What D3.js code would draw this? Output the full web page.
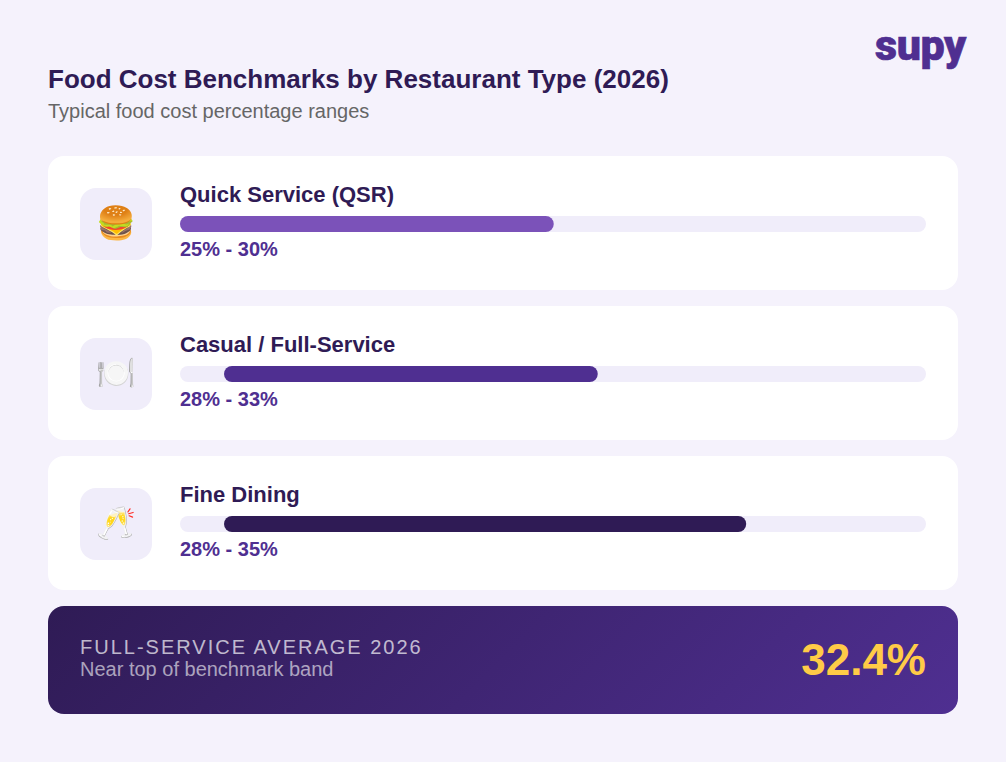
<!DOCTYPE html>
<html>
<head>
<meta charset="utf-8">
<script src="https://cdn.jsdelivr.net/npm/d3@7/dist/d3.min.js"></script>
<style>
html,body{margin:0;padding:0;background:#f5f2fc;}
svg{display:block;}
text{font-family:"Liberation Sans",Arial,sans-serif;}
</style>
</head>
<body>
<div id="chart"></div>
<script>
// Benchmark content
const categories = ["Quick Service (QSR)", "Casual / Full-Service", "Fine Dining"];
const icons = ["🍔", "🍽️", "🥂"];
const lowValues = [25, 28, 28];
const highValues = [30, 33, 35];
const barColors = ["#7b52b9", "#4f2f91", "#2f1b55"];
// Percentage stops and where each one sits along the track (share of its length)
const scaleStops = [25, 28, 30, 33, 35];
const trackShares = [0, 5.9, 50.1, 56, 75.9];
const calloutValue = 32.4;

const W = 1006, H = 762;
const svg = d3.select("#chart").append("svg").attr("width", W).attr("height", H);

const defs = svg.append("defs");
const grad = defs.append("linearGradient").attr("id", "banner")
  .attr("gradientUnits", "userSpaceOnUse")
  .attr("x1", 248.5).attr("y1", 405.5).attr("x2", 757.5).attr("y2", 914.5);
grad.append("stop").attr("offset", 0).attr("stop-color", "#2f1b55");
grad.append("stop").attr("offset", 1).attr("stop-color", "#4f2f91");

svg.append("rect").attr("width", W).attr("height", H).attr("fill", "#f5f2fc");

// Header
svg.append("text").attr("x", 48).attr("y", 88).attr("font-size", 26).attr("font-weight", 700)
  .attr("fill", "#2f1b55").text("Food Cost Benchmarks by Restaurant Type (2026)");
svg.append("text").attr("x", 48).attr("y", 118).attr("font-size", 20)
  .attr("fill", "#666666").text("Typical food cost percentage ranges");
svg.append("text").attr("x", 966).attr("y", 60).attr("text-anchor", "end")
  .style("font-family", "Roboto").attr("font-size", 43).attr("font-weight", 900)
  .attr("letter-spacing", -0.4).attr("fill", "#4f2f91").attr("stroke", "#4f2f91")
  .attr("stroke-width", 0.6).text("supy");

// Shared scales
const rowY = d3.scaleBand().domain(categories).range([156, 590]).paddingInner(16 / 150);
const trackX = d3.scaleLinear().domain([0, 100]).range([180, 926]);
const pctToShare = d3.scaleLinear().domain(scaleStops).range(trackShares);
const xOf = v => trackX(pctToShare(v));

const rows = svg.selectAll("g.row").data(categories).join("g").attr("class", "row")
  .attr("transform", d => `translate(0,${rowY(d)})`);

rows.append("rect").attr("x", 48).attr("width", 910).attr("height", rowY.bandwidth())
  .attr("rx", 16).attr("fill", "#ffffff");
rows.append("rect").attr("x", 80).attr("y", 32).attr("width", 72).attr("height", 72)
  .attr("rx", 16).attr("fill", "#f0edfa");
rows.append("text").attr("x", 116).attr("y", 78).attr("text-anchor", "middle")
  .attr("font-size", 32).style("font-family", "'Noto Color Emoji',sans-serif")
  .text((d, i) => icons[i]);
rows.append("text").attr("x", 180).attr("y", 46).attr("font-size", 22).attr("font-weight", 700)
  .attr("fill", "#2f1b55").text(d => d);
rows.append("rect").attr("x", trackX(0)).attr("y", 60).attr("width", trackX(100) - trackX(0))
  .attr("height", 16).attr("rx", 8).attr("fill", "#f0edfa");
rows.append("rect").attr("x", (d, i) => xOf(lowValues[i])).attr("y", 60)
  .attr("width", (d, i) => xOf(highValues[i]) - xOf(lowValues[i]))
  .attr("height", 16).attr("rx", 8).attr("fill", (d, i) => barColors[i]);
rows.append("text").attr("x", 180).attr("y", 100).attr("font-size", 20).attr("font-weight", 700)
  .attr("fill", "#4f2f91").text((d, i) => `${lowValues[i]}% - ${highValues[i]}%`);

// Callout banner
svg.append("rect").attr("x", 48).attr("y", 606).attr("width", 910).attr("height", 108)
  .attr("rx", 16).attr("fill", "url(#banner)");
svg.append("text").attr("x", 80).attr("y", 654).attr("font-size", 20).attr("letter-spacing", 2)
  .attr("fill", "#ffffff").attr("fill-opacity", 0.7).text("FULL-SERVICE AVERAGE 2026");
svg.append("text").attr("x", 80).attr("y", 676).attr("font-size", 20)
  .attr("fill", "#ffffff").attr("fill-opacity", 0.6).text("Near top of benchmark band");
svg.append("text").attr("x", 926).attr("y", 675).attr("text-anchor", "end")
  .attr("font-size", 44).attr("font-weight", 700).attr("fill", "#ffcb47").text(`${calloutValue}%`);
</script>
</body>
</html>
